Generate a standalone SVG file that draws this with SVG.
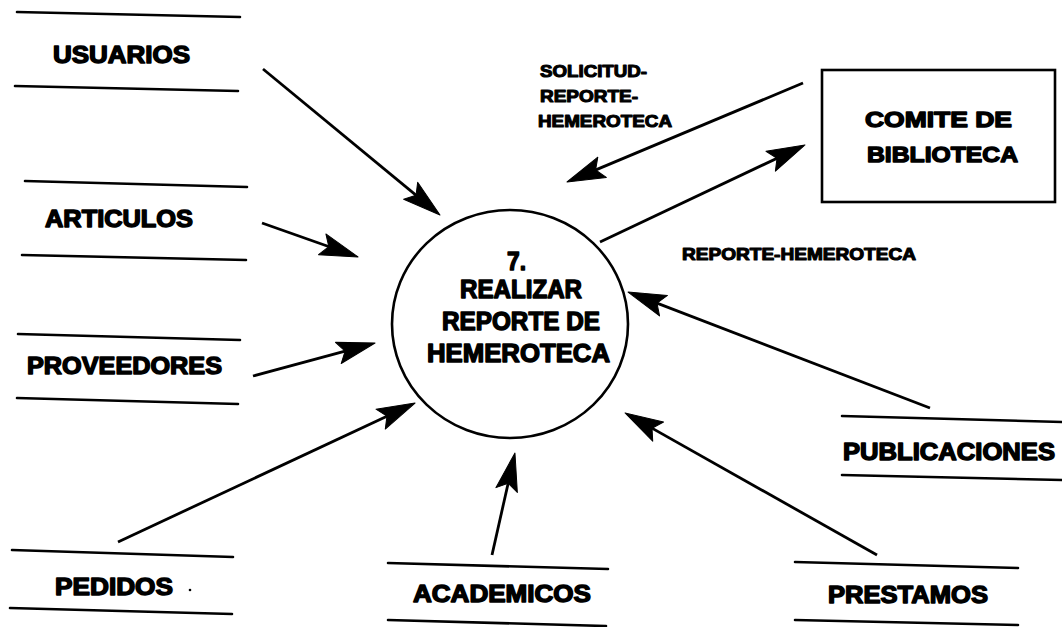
<svg xmlns="http://www.w3.org/2000/svg" width="1062" height="627" viewBox="0 0 1062 627">
<style>
.t{font-family:"Liberation Sans",Arial,sans-serif;font-weight:bold;fill:#000;stroke:#000;stroke-width:1.4;stroke-linejoin:round}
.s{font-size:23px}
.p{font-size:25px}
.l{font-size:17px;stroke-width:1.1}
.ln{stroke:#000;stroke-width:2.6;fill:none;stroke-linecap:round}
.fl{stroke:#000;stroke-width:2.8;fill:none;marker-end:url(#ah)}
</style>
<defs>
<marker id="ah" markerUnits="userSpaceOnUse" viewBox="-42 -13 46 26" markerWidth="46" markerHeight="26" refX="-8" refY="0" orient="auto">
<path d="M0,0 L-38,-11 L-31,0 L-38,11 Z" fill="#000" stroke="#000" stroke-width="1" stroke-linejoin="round"/>
</marker>
</defs>
<rect width="1062" height="627" fill="#fff"/>

<g id="usuarios">
<line class="ln" x1="17" y1="12" x2="240" y2="17"/>
<line class="ln" x1="15" y1="86" x2="238" y2="91"/>
<text class="t s" x="53" y="63" textLength="137" lengthAdjust="spacingAndGlyphs">USUARIOS</text>
</g>
<g id="articulos">
<line class="ln" x1="25" y1="181" x2="247" y2="187"/>
<line class="ln" x1="22" y1="255" x2="246" y2="260"/>
<text class="t s" x="45" y="227" textLength="148" lengthAdjust="spacingAndGlyphs">ARTICULOS</text>
</g>
<g id="proveedores">
<line class="ln" x1="18" y1="334" x2="240" y2="340"/>
<line class="ln" x1="17" y1="398" x2="238" y2="404"/>
<text class="t s" x="27" y="374" textLength="195" lengthAdjust="spacingAndGlyphs">PROVEEDORES</text>
</g>
<g id="pedidos">
<line class="ln" x1="12" y1="550" x2="233" y2="557"/>
<line class="ln" x1="10" y1="608" x2="232" y2="614"/>
<text class="t s" x="55" y="595" textLength="118" lengthAdjust="spacingAndGlyphs">PEDIDOS</text>
<circle cx="190" cy="590" r="1.3" fill="#000"/>
</g>
<g id="academicos">
<line class="ln" x1="388" y1="563" x2="608" y2="569"/>
<line class="ln" x1="388" y1="620" x2="606" y2="626"/>
<text class="t s" x="413" y="602" textLength="178" lengthAdjust="spacingAndGlyphs">ACADEMICOS</text>
</g>
<g id="prestamos">
<line class="ln" x1="795" y1="562" x2="1018" y2="568"/>
<line class="ln" x1="795" y1="620" x2="1018" y2="625"/>
<text class="t s" x="828" y="603" textLength="160" lengthAdjust="spacingAndGlyphs">PRESTAMOS</text>
</g>
<g id="publicaciones">
<line class="ln" x1="842" y1="416" x2="1062" y2="422"/>
<line class="ln" x1="842" y1="475" x2="1062" y2="480"/>
<text class="t s" x="843" y="460" textLength="212" lengthAdjust="spacingAndGlyphs">PUBLICACIONES</text>
</g>
<g id="comite">
<rect x="822" y="70" width="233" height="132" fill="none" stroke="#000" stroke-width="2.6"/>
<text class="t" style="font-size:22px" x="865" y="127" textLength="147" lengthAdjust="spacingAndGlyphs">COMITE DE</text>
<text class="t" style="font-size:22px" x="867" y="162" textLength="151" lengthAdjust="spacingAndGlyphs">BIBLIOTECA</text>
</g>
<g id="proceso7">
<ellipse cx="510" cy="324" rx="118" ry="114" fill="none" stroke="#000" stroke-width="2.6"/>
<text class="t p" x="507" y="270" textLength="19" lengthAdjust="spacingAndGlyphs">7.</text>
<text class="t p" x="460" y="298" textLength="122" lengthAdjust="spacingAndGlyphs">REALIZAR</text>
<text class="t p" x="442" y="330" textLength="158" lengthAdjust="spacingAndGlyphs">REPORTE DE</text>
<text class="t p" x="427" y="362" textLength="183" lengthAdjust="spacingAndGlyphs">HEMEROTECA</text>
</g>

<g id="connectors">
<line class="fl" x1="263" y1="69" x2="433.8" y2="209.9"/>
<line class="fl" x1="262" y1="223" x2="350.5" y2="254.3"/>
<line class="fl" x1="253" y1="376" x2="367.3" y2="345.1"/>
<line class="fl" x1="118" y1="542" x2="407.8" y2="406.4"/>
<line class="fl" x1="492" y1="555" x2="513.2" y2="460.8"/>
<line class="fl" x1="877" y1="555" x2="632" y2="416.9"/>
<line class="fl" x1="930" y1="408" x2="635.5" y2="294.9"/>
<line class="fl" x1="803" y1="83" x2="574.4" y2="178.9"/>
<line class="fl" x1="600" y1="242" x2="797.8" y2="148.4"/>
</g>

<g id="labels">
<text class="t l" x="540" y="77" textLength="107" lengthAdjust="spacingAndGlyphs">SOLICITUD-</text>
<text class="t l" x="540" y="102" textLength="98" lengthAdjust="spacingAndGlyphs">REPORTE-</text>
<text class="t l" x="538" y="127" textLength="134" lengthAdjust="spacingAndGlyphs">HEMEROTECA</text>
<text class="t l" x="682" y="260" textLength="234" lengthAdjust="spacingAndGlyphs">REPORTE-HEMEROTECA</text>
</g>
</svg>
